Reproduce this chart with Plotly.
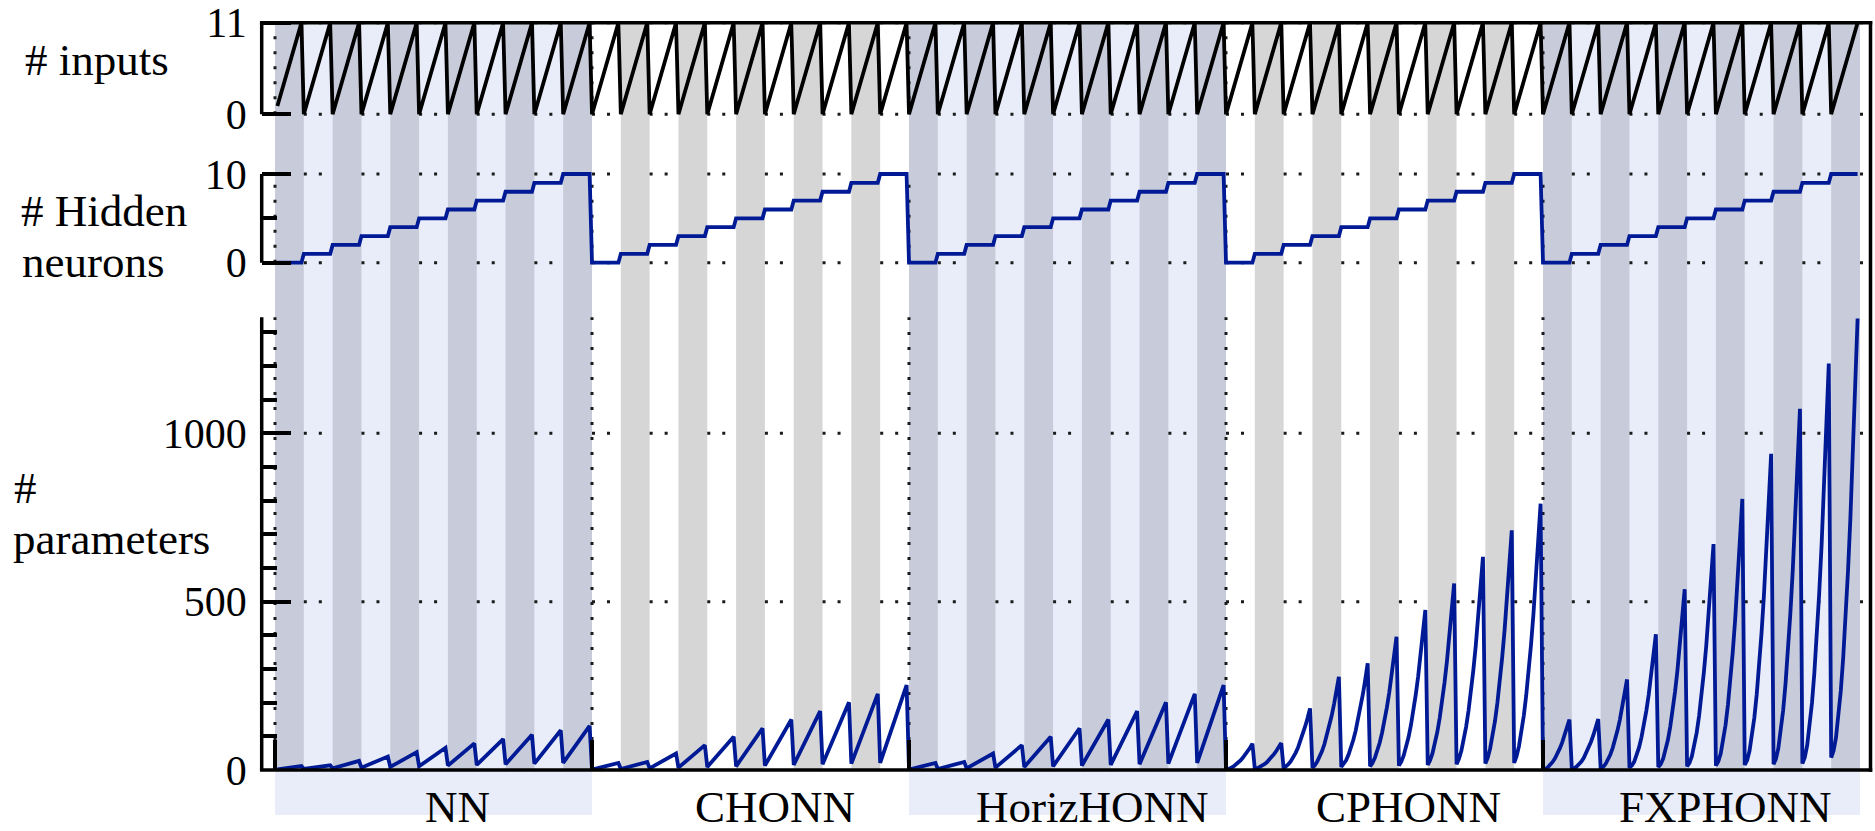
import plotly.graph_objects as go

# ---------------- data ----------------
MODELS = ["NN", "CHONN", "HorizHONN", "CPHONN", "FXPHONN"]
HIDDEN = [0, 1, 2, 3, 4, 5, 6, 7, 8, 9, 10]
INPUTS = [0, 1, 2, 3, 4, 5, 6, 7, 8, 9, 10, 11]
FIRST_INPUT = 1  # the very first configuration (0 inputs, 0 hidden) is absent

# straight-stripe models: parameter count at the first and last input of each stripe
NN_LOW = [2, 3, 5, 7, 9, 11, 13, 15, 17, 19, 21]
NN_HIGH = [12, 14, 27, 40, 53, 66, 79, 92, 105, 118, 131]
CHONN_LOW = [1, 3, 5, 7, 9, 11, 13, 15, 17, 19, 21]
CHONN_HIGH = [21, 24, 49, 74, 99, 124, 150, 175, 201, 226, 252]
HORIZ_LOW = [1, 3, 5, 7, 9, 11, 13, 15, 17, 19, 21]
HORIZ_HIGH = [21, 24, 49, 74, 99, 124, 150, 175, 201, 226, 252]

# curved-stripe models: parameter count for every input (rows = hidden neurons)
CPHONN_PARAMS = [
    [1, 3, 6, 10, 15, 21, 28, 36, 45, 55, 66, 78],
    [3, 5, 8, 12, 17, 23, 30, 38, 47, 57, 68, 80],
    [5, 10, 17, 26, 37, 51, 67, 86, 107, 130, 155, 183],
    [7, 14, 25, 39, 56, 77, 102, 130, 161, 196, 235, 277],
    [9, 17, 29, 45, 65, 89, 117, 149, 185, 225, 269, 317],
    [11, 21, 36, 56, 81, 111, 146, 186, 231, 281, 336, 396],
    [13, 25, 43, 67, 97, 133, 175, 223, 277, 337, 403, 475],
    [15, 29, 50, 78, 113, 155, 204, 260, 323, 393, 470, 554],
    [17, 33, 57, 89, 129, 177, 233, 297, 369, 449, 537, 633],
    [19, 37, 64, 100, 145, 199, 262, 334, 415, 505, 604, 712],
    [21, 41, 71, 111, 161, 221, 291, 371, 461, 561, 671, 791],
]
FXPHONN_PARAMS = [
    [1, 3, 8, 15, 24, 35, 48, 64, 82, 103, 125, 150],
    [3, 5, 10, 16, 25, 36, 50, 66, 84, 104, 127, 151],
    [5, 9, 17, 29, 45, 65, 89, 117, 149, 185, 225, 269],
    [7, 13, 25, 43, 67, 97, 133, 175, 223, 277, 337, 403],
    [9, 17, 33, 57, 89, 129, 177, 233, 297, 369, 449, 537],
    [11, 21, 41, 71, 111, 161, 221, 291, 371, 461, 561, 671],
    [13, 25, 49, 85, 133, 193, 265, 349, 445, 553, 673, 805],
    [15, 29, 57, 99, 155, 225, 309, 407, 519, 645, 785, 939],
    [17, 33, 65, 113, 177, 257, 353, 465, 593, 737, 897, 1073],
    [19, 37, 73, 127, 199, 289, 397, 523, 667, 829, 1009, 1207],
    [37, 57, 96, 156, 235, 333, 452, 590, 748, 926, 1124, 1341],
]

INPUT_TICKS = [0, 11]
HIDDEN_TICKS = [0, 10]
HIDDEN_MINOR = [5]
PARAM_TICKS = [0, 500, 1000]
PARAM_MINOR = [100, 200, 300, 400, 600, 700, 800, 900, 1100, 1200, 1300]
PARAM_MAX = 1345

LINEAR = {"NN": (NN_LOW, NN_HIGH), "CHONN": (CHONN_LOW, CHONN_HIGH),
          "HorizHONN": (HORIZ_LOW, HORIZ_HIGH)}
CURVED = {"CPHONN": CPHONN_PARAMS, "FXPHONN": FXPHONN_PARAMS}
GROUP_TINT = ["blue", "gray", "blue", "gray", "blue"]

# ---------------- style ----------------
W, H = 1875, 831
FONT = "Liberation Serif"
BLUE = "rgb(0,26,150)"
LIGHT_BLUE = "#e9edf9"
DARK = {"blue": "#c8ccda", "gray": "#d6d6d6"}
GRID = dict(color="#1a1a1a", width=3, dash="3px,12px")
SPINE = dict(color="black", width=3.5)
LW = 3.8
LABEL_SHIFT = 10  # group labels sit slightly right of the group centre


def py(px):
    return 1 - px / H


def pxx(px):
    return px / W


# ---------------- build series ----------------
n_in, n_h = len(INPUTS), len(HIDDEN)
group_w = n_in * n_h
span = group_w * len(MODELS)
n_stripes = n_h * len(MODELS)
first_i, last_i = INPUTS[0], INPUTS[-1]

x_in, y_in, x_hid, y_hid, x_par, y_par = [], [], [], [], [], []
for g, model in enumerate(MODELS):
    for h in HIDDEN:
        s = g * n_h + h
        base = s * n_in
        start = FIRST_INPUT if s == 0 else first_i
        ends = [start, last_i]
        x_in += [base + i for i in ends]
        y_in += ends
        x_hid += [base + i for i in ends]
        y_hid += [h, h]
        if model in LINEAR:
            lo, hi = LINEAR[model]
            x_par += [base + i for i in ends]
            y_par += [lo[h], hi[h]]
        else:
            for i, v in zip(INPUTS, CURVED[model][h]):
                if i >= start:
                    x_par.append(base + i)
                    y_par.append(v)

# ---------------- geometry ----------------
X_LEFT, X_RIGHT = 261.7, 1870.5
X0_PX, XEND_PX = 275.0, 1860.0
kx = (XEND_PX - X0_PX) / span
x_range = [-(X0_PX - X_LEFT) / kx, span + (X_RIGHT - XEND_PX) / kx]


def frame(px_zero, px_top, v_top, pad_lo, pad_hi):
    k = (px_zero - px_top) / v_top
    return [py(px_zero + pad_lo), py(px_top - pad_hi)], [-pad_lo / k, v_top + pad_hi / k]


TOP_PX = 22.7
dom1, rng1 = frame(114.3, TOP_PX, INPUT_TICKS[-1], 8, 8)
dom2, rng2 = frame(262.7, 174.0, HIDDEN_TICKS[-1], 8, 8)
BOT_PX = 770.0
k3 = (BOT_PX - 433.3) / 1000
dom3, rng3 = frame(BOT_PX, BOT_PX - PARAM_MAX * k3, PARAM_MAX, 0, 6)

fig = go.Figure()
fig.add_trace(go.Scatter(x=x_in, y=y_in, mode="lines", xaxis="x", yaxis="y",
                         line=dict(color="black", width=LW), hoverinfo="skip"))
fig.add_trace(go.Scatter(x=x_hid, y=y_hid, mode="lines", xaxis="x", yaxis="y2",
                         line=dict(color=BLUE, width=LW), hoverinfo="skip"))
fig.add_trace(go.Scatter(x=x_par, y=y_par, mode="lines", xaxis="x", yaxis="y3",
                         line=dict(color=BLUE, width=LW), hoverinfo="skip"))

shapes = []
# light group backgrounds (+ label band)
for g, tint in enumerate(GROUP_TINT):
    if tint == "blue":
        shapes.append(dict(type="rect", xref="x", yref="paper", x0=g * group_w, x1=(g + 1) * group_w,
                           y0=py(815), y1=py(TOP_PX), fillcolor=LIGHT_BLUE, line=dict(width=0),
                           layer="below"))
# dark stripes
for s in range(n_stripes):
    if s % 2 == 0:
        g = s // n_h
        shapes.append(dict(type="rect", xref="x", yref="paper", x0=s * n_in, x1=(s + 1) * n_in,
                           y0=py(BOT_PX), y1=py(TOP_PX), fillcolor=DARK[GROUP_TINT[g]],
                           line=dict(width=0), layer="below"))
# horizontal dotted grid: only visible across the light stripes
segments = [(s * n_in, (s + 1) * n_in) for s in range(n_stripes) if s % 2 == 1]
segments.append((span, x_range[1]))
for yref, vals in (("y", INPUT_TICKS), ("y2", HIDDEN_TICKS), ("y3", PARAM_TICKS[1:])):
    for v in vals:
        for a, b in segments:
            shapes.append(dict(type="line", xref="x", yref=yref, x0=a, x1=b,
                               y0=v, y1=v, line=GRID, layer="below"))
# vertical dotted lines at group boundaries
edges = [g * group_w for g in range(len(MODELS))]
for yref, top in (("y", INPUT_TICKS[-1]), ("y2", HIDDEN_TICKS[-1]), ("y3", PARAM_MAX)):
    for b in edges:
        shapes.append(dict(type="line", xref="x", yref=yref, x0=b, x1=b, y0=0, y1=top,
                           line=GRID, layer="below"))
# frame
for yref, top in (("y", INPUT_TICKS[-1]), ("y2", HIDDEN_TICKS[-1]), ("y3", PARAM_MAX)):
    shapes.append(dict(type="line", xref="paper", yref=yref, x0=pxx(X_LEFT), x1=pxx(X_LEFT),
                       y0=0, y1=top, line=SPINE, layer="above"))
shapes.append(dict(type="line", xref="paper", yref="y", x0=pxx(X_LEFT - 1.75), x1=pxx(X_RIGHT + 1.75),
                   y0=INPUT_TICKS[-1], y1=INPUT_TICKS[-1], line=SPINE, layer="above"))
shapes.append(dict(type="line", xref="paper", yref="y3 domain", x0=pxx(X_LEFT - 1.75), x1=pxx(X_RIGHT + 1.75),
                   y0=0, y1=0, line=SPINE, layer="above"))
shapes.append(dict(type="line", xref="paper", yref="paper", x0=pxx(X_RIGHT), x1=pxx(X_RIGHT),
                   y0=py(BOT_PX + 1.75), y1=py(TOP_PX - 1.75), line=SPINE, layer="above"))

annotations = []
for g, model in enumerate(MODELS):
    annotations.append(dict(text=model, xref="x", yref="paper",
                            x=g * group_w + group_w / 2 + LABEL_SHIFT,
                            y=py(834), xanchor="center", yanchor="bottom", showarrow=False,
                            font=dict(family=FONT, size=45, color="black")))
TITLES = [("# inputs", 23, 77), ("# Hidden", 19, 228), ("neurons", 20, 279),
          ("#", 12, 505), ("parameters", 11, 556)]
for text, xp, base in TITLES:
    annotations.append(dict(text=text, xref="paper", yref="paper", x=pxx(xp), y=py(base + 10),
                            xanchor="left", yanchor="bottom", showarrow=False,
                            font=dict(family=FONT, size=45, color="black")))

tickfont = dict(family=FONT, size=42, color="black")
ycommon = dict(anchor="x", showgrid=False, zeroline=False, showline=False, ticks="inside",
               ticklen=29, tickwidth=3.5, tickcolor="black", tickfont=tickfont, tickmode="array",
               ticklabelstandoff=14, fixedrange=True, automargin=False)

fig.update_layout(
    width=W, height=H, autosize=False,
    margin=dict(l=0, r=0, t=0, b=0, autoexpand=False),
    paper_bgcolor="white", plot_bgcolor="rgba(0,0,0,0)",
    showlegend=False, hovermode=False,
    xaxis=dict(domain=[pxx(X_LEFT), pxx(X_RIGHT)], range=x_range, anchor="y3",
               showgrid=False, zeroline=False, showline=False, ticks="inside", ticklen=30,
               tickwidth=3.5, tickcolor="black", tickmode="array", tickvals=edges,
               showticklabels=False, fixedrange=True, automargin=False),
    yaxis=dict(domain=dom1, range=rng1, tickvals=INPUT_TICKS,
               ticktext=[str(v) for v in INPUT_TICKS], **ycommon),
    yaxis2=dict(domain=dom2, range=rng2, tickvals=HIDDEN_TICKS,
                ticktext=[str(v) for v in HIDDEN_TICKS],
                minor=dict(tickmode="array", tickvals=HIDDEN_MINOR, ticks="inside", ticklen=15,
                           tickwidth=3.5, tickcolor="black", showgrid=False), **ycommon),
    yaxis3=dict(domain=dom3, range=rng3, tickvals=PARAM_TICKS,
                ticktext=[str(v) for v in PARAM_TICKS],
                minor=dict(tickmode="array", tickvals=PARAM_MINOR, ticks="inside", ticklen=15,
                           tickwidth=3.5, tickcolor="black", showgrid=False), **ycommon),
    shapes=shapes,
    annotations=annotations,
)

fig.write_html("out.html")
